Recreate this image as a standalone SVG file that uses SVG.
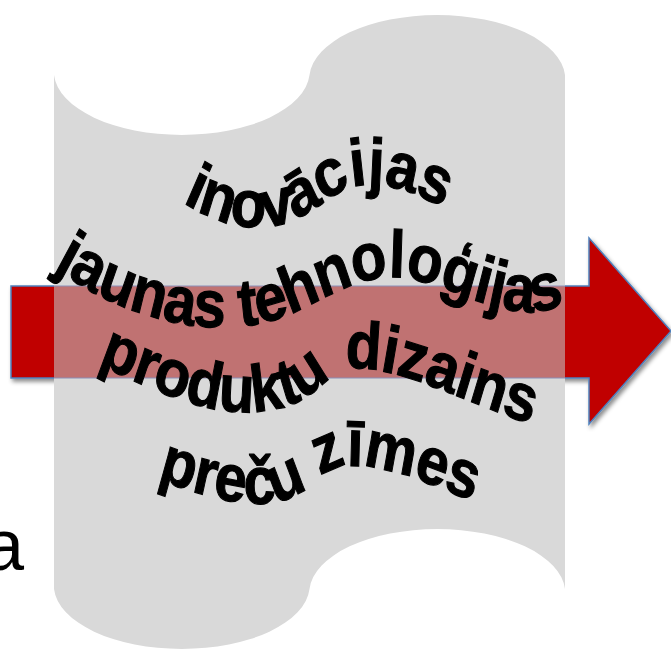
<svg xmlns="http://www.w3.org/2000/svg" width="671" height="653" viewBox="0 0 671 653">
<style>
.w{font-family:"Liberation Sans",Arial,sans-serif;font-weight:bold;font-size:58px;letter-spacing:-0.5px;fill:#000;stroke:#000;stroke-width:1px}
.plain{font-family:"Liberation Sans",Arial,sans-serif;font-size:72px;fill:#000}
</style>
<defs>
<filter id="sh" x="-10%" y="-10%" width="130%" height="140%">
<feDropShadow dx="2" dy="3" stdDeviation="2" flood-color="#000" flood-opacity="0.45"/>
</filter>
<path id="p1" d="M176,172.2 C212,193 252,205.2 290,193 C320,182.6 337,161.7 365,160.9 C398,160 425,172.2 450,184.3"/>
<path id="p2" d="M52,231.3 C130,282.6 230,300 300,269.6 C345,250.4 375,234.8 415,243.5 C460,252.2 520,287 566,262.6"/>
<path id="p3" d="M95,314.8 C170,347.8 230,369.6 290,352.2 C320,343.5 330,320 355,320 C410,321.7 470,352.2 534,369.6"/>
<path id="p4" d="M160,417.4 C210,434.8 262,445.2 292,432.2 C312,423.5 325,405.2 350,405.2 C392,405.2 430,421.7 470,434.8"/>
</defs>
<rect width="671" height="653" fill="#fff"/>
<text id="stray-a" class="plain" x="-16" y="570">a</text>
<g id="arrow">
<path d="M11,286 L589,286 L589,238 L671,331 L589,424 L589,378 L11,378 Z" fill="#C00000" stroke="#4F81BD" stroke-width="1.5" filter="url(#sh)"/>
</g>
<g id="tape">
<path d="M54,75 A128,64 0 0 0 309.5,75 A128,64 0 0 1 565,75 L565,589 A128,64 0 0 0 309.5,589 A128,64 0 0 1 54,589 Z" fill="#D9D9D9"/>
</g>
<g id="arrow-overlay">
<rect x="54" y="286" width="511" height="92" fill="#C07272"/>
<line x1="54" y1="286" x2="565" y2="286" stroke="#8A8FB8" stroke-width="1"/>
<line x1="54" y1="378" x2="565" y2="378" stroke="#8A8FB8" stroke-width="1"/>
</g>
<g id="labels" transform="scale(1,1.15)">
<text id="t1" class="w"><textPath href="#p1" startOffset="50%" text-anchor="middle">inovācijas</textPath></text>
<text id="t2" class="w"><textPath href="#p2" startOffset="50%" text-anchor="middle">jaunas tehnoloģijas</textPath></text>
<text id="t3" class="w"><textPath href="#p3" startOffset="50%" text-anchor="middle">produktu dizains</textPath></text>
<text id="t4" class="w"><textPath href="#p4" startOffset="50%" text-anchor="middle">preču zīmes</textPath></text>
</g>
</svg>
